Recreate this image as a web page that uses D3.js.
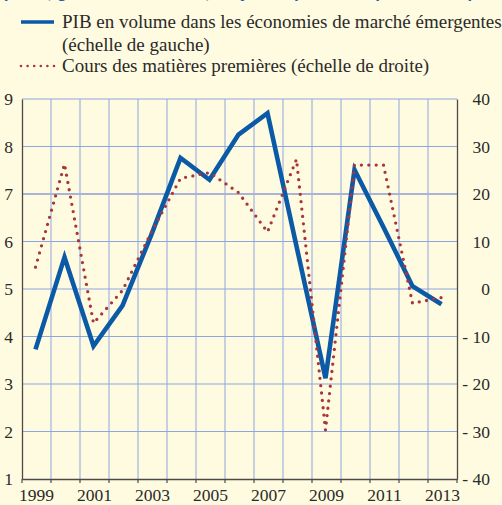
<!doctype html>
<html>
<head>
<meta charset="utf-8">
<script src="https://d3js.org/d3.v7.min.js"></script>
<style>
  body { margin: 0; background-color: #fffbe0; }
  svg { display: block; }
  text { font-family: 'Liberation Serif', 'DejaVu Serif', serif; fill: #2a2a2a; }
  .tick-label { font-size: 17.5px; }
  .legend-text { font-size: 19px; }
  .title-cut { font-family: 'Liberation Sans', Arial, sans-serif; font-weight: bold; font-size: 17px; fill: #1d62b4; }
</style>
</head>
<body>
<script>

var years = [1999,2000,2001,2002,2003,2004,2005,2006,2007,2008,2009,2010,2011,2012,2013]
var pib = [3.73,5.67,3.80,4.65,6.15,7.76,7.30,8.25,8.70,5.90,3.12,7.51,6.30,5.06,4.68]
var commodities = [4.6,26.3,-7.2,-0.3,12.0,23.3,24.5,20.3,12.0,27.3,-29.7,26.1,26.1,-3.0,-1.8]

var leftTicks = [1,2,3,4,5,6,7,8,9]
var rightTicks = [-40,-30,-20,-10,0,10,20,30,40]
var yearLabels = [1999,2001,2003,2005,2007,2009,2011,2013]

var legendItems = [
  {label: ["PIB en volume dans les économies de marché émergentes", "(échelle de gauche)"], kind: "solid"},
  {label: ["Cours des matières premières (échelle de droite)"], kind: "dotted"}
]

var width = 502, height = 505
var pLeft = 22, pRight = 457, pTop = 99, pBottom = 479

var blue = '#0b5aa7'
var red = '#a8363b'
var gridColor = '#8fa5e2'
var axisColor = '#4a4a4a'

var svg = d3.select("body").append("svg")
  .attr("width", width)
  .attr("height", height)

svg.append("rect").attr("width", width).attr("height", height).attr("fill", "#fffbe0")

// cut title at the very top
svg.append("text")
  .attr("class", "title-cut")
  .attr("x", 2)
  .attr("y", -2)
  .text("(en %, glissement annuel, moyenne pondérée par les PPA)")

var x = d3.scaleBand().domain(years).range([pLeft, pRight]).paddingInner(0).paddingOuter(0)
var xc = function(d) { return x(d) + x.bandwidth()/2 - 1; }
var yL = d3.scaleLinear().domain([1, 9]).range([pBottom, pTop])
var yR = d3.scaleLinear().domain([-40, 40]).range([pBottom, pTop])

// grid
var bounds = years.map(function(d) { return x(d); }).concat([pRight])
svg.selectAll(".vgrid")
  .data(bounds.slice(1, -1))
  .enter().append("line")
    .attr("x1", function(d) { return d; })
    .attr("x2", function(d) { return d; })
    .attr("y1", pTop)
    .attr("y2", pBottom)
    .attr("stroke", gridColor)
    .attr("stroke-width", 1)

svg.selectAll(".hgrid")
  .data(leftTicks.slice(1))
  .enter().append("line")
    .attr("x1", pLeft)
    .attr("x2", pRight)
    .attr("y1", function(d) { return yL(d); })
    .attr("y2", function(d) { return yL(d); })
    .attr("stroke", function(d) { return d == 7 ? '#aab4d6' : gridColor; })
    .attr("stroke-width", function(d) { return d == 7 ? 2 : 1; })

// axes
var axisL = svg.append("g")
  .attr("transform", "translate(" + pLeft + ",0)")
  .call(d3.axisLeft(yL).tickValues(leftTicks).tickSize(0).tickPadding(9))
var axisR = svg.append("g")
  .attr("transform", "translate(" + pRight + ",0)")
  .call(d3.axisRight(yR).tickValues(rightTicks).tickSize(0).tickPadding(33)
    .tickFormat(function(d) { return d < 0 ? "- " + (-d) : d; }))
axisR.selectAll("text").attr("text-anchor", "end")

var axisB = svg.append("g")
  .attr("transform", "translate(0," + pBottom + ")")
  .call(d3.axisBottom(x).tickSize(0).tickPadding(6)
    .tickFormat(function(d) { return yearLabels.indexOf(d) >= 0 ? d : ""; }))

svg.selectAll(".btick")
  .data(bounds)
  .enter().append("line")
    .attr("x1", function(d) { return d; })
    .attr("x2", function(d) { return d; })
    .attr("y1", pBottom)
    .attr("y2", pBottom + 4)
    .attr("stroke", axisColor)
    .attr("stroke-width", 1.2)

;[axisL, axisR, axisB].forEach(function(g) {
  g.attr("font-family", null).attr("font-size", null)
  g.select(".domain").attr("stroke", axisColor).attr("stroke-width", 1.3)
  g.selectAll("text").attr("class", "tick-label").attr("fill", "#2a2a2a")
})
axisL.selectAll("text").attr("dy", ".34em")
axisR.selectAll("text").attr("dy", ".34em")
axisB.selectAll("text").attr("dy", "0.93em")

// lines
var linePib = d3.line()
  .x(function(d, i) { return xc(years[i]); })
  .y(function(d) { return yL(d); })
var lineCom = d3.line()
  .x(function(d, i) { return xc(years[i]); })
  .y(function(d) { return yR(d); })

svg.append("path")
  .datum(pib)
  .attr("d", linePib)
  .attr("fill", "none")
  .attr("stroke", blue)
  .attr("stroke-width", 4.6)
  .attr("stroke-linejoin", "miter")

svg.append("path")
  .datum(commodities)
  .attr("d", lineCom)
  .attr("fill", "none")
  .attr("stroke", red)
  .attr("stroke-width", 3.3)
  .attr("stroke-linecap", "round")
  .attr("stroke-dasharray", "0 7.4")

// legend
var legend = svg.selectAll(".legend")
  .data(legendItems)
  .enter().append("g")
    .attr("transform", function(d, i) { return "translate(0," + (i == 0 ? 0 : 44) + ")"; })

legend.append("line")
  .attr("x1", 21)
  .attr("x2", 54)
  .attr("y1", 22)
  .attr("y2", 22)
  .attr("stroke", function(d) { return d.kind == "solid" ? blue : red; })
  .attr("stroke-width", function(d) { return d.kind == "solid" ? 3.4 : 2.6; })
  .attr("stroke-linecap", function(d) { return d.kind == "solid" ? "butt" : "round"; })
  .attr("stroke-dasharray", function(d) { return d.kind == "solid" ? null : "0 6.6"; })

legend.each(function(d) {
  d3.select(this).selectAll("text")
    .data(d.label)
    .enter().append("text")
      .attr("class", "legend-text")
      .attr("x", 62)
      .attr("y", function(t, j) { return 28 + j * 22.5; })
      .text(function(t) { return t; })
})

</script>
</body>
</html>
